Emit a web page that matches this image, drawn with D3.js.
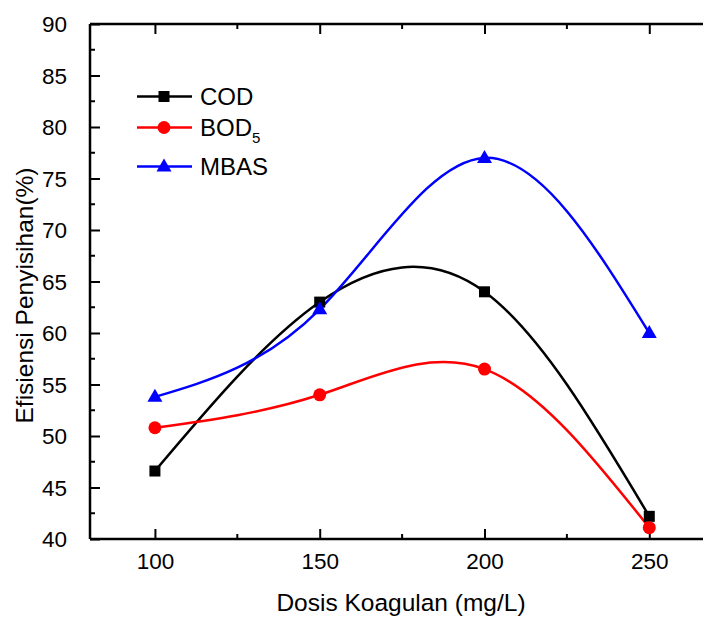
<!DOCTYPE html>
<html><head><meta charset="utf-8">
<script src="https://cdn.jsdelivr.net/npm/d3@7"></script>
<style>body{margin:0;background:#fff}svg{display:block}text{font-family:"Liberation Sans",Arial,sans-serif;fill:#000}</style>
</head><body><svg id="c" width="703" height="617"></svg>
<script>
const doses = [100, 150, 200, 250];
const cod = [46.6, 63.0, 64.0, 42.2];
const bod = [50.8, 54.0, 56.5, 41.1];
const mbas = [53.8, 62.3, 77.0, 60.0];
const xTicks = [100, 150, 200, 250];
const xMinor = [125, 175, 225];
const yTicks = [40, 45, 50, 55, 60, 65, 70, 75, 80, 85, 90];
const yMinor = [42.5, 47.5, 52.5, 57.5, 62.5, 67.5, 72.5, 77.5, 82.5, 87.5];

const svg = d3.select("#c");
const x = d3.scaleLinear().domain([80.3, 266.3]).range([90, 703]);
const y = d3.scaleLinear().domain([40, 90]).range([539, 24]);

// axes (ticks inward)
const axW = 2.5;
const bottomAx = svg.append("g").attr("transform", "translate(0,539)")
  .call(d3.axisBottom(x).tickValues(xTicks).tickSize(-10).tickPadding(22).tickFormat(d3.format("d")));
bottomAx.selectAll(".tick text").attr("dy", 0).attr("y", 30).style("font-size", "22.5px").attr("font-family", null);
bottomAx.append("g").selectAll("line").data(xMinor).join("line")
  .attr("x1", d => x(d)).attr("x2", d => x(d)).attr("y1", 0).attr("y2", -5).attr("stroke", "#000").attr("stroke-width", 2);

const topAx = svg.append("g").attr("transform", "translate(0,24)")
  .call(d3.axisTop(x).tickValues(xTicks).tickSize(-10).tickFormat(""));
topAx.append("g").selectAll("line").data(xMinor).join("line")
  .attr("x1", d => x(d)).attr("x2", d => x(d)).attr("y1", 0).attr("y2", 5).attr("stroke", "#000").attr("stroke-width", 2);

const leftAx = svg.append("g").attr("transform", "translate(90,0)")
  .call(d3.axisLeft(y).tickValues(yTicks).tickSize(-10).tickPadding(23).tickFormat(d3.format("d")));
leftAx.selectAll(".tick text").attr("dy", "0.35em").style("font-size", "22.5px").attr("font-family", null);
leftAx.append("g").selectAll("line").data(yMinor).join("line")
  .attr("y1", d => y(d)).attr("y2", d => y(d)).attr("x1", 0).attr("x2", 5).attr("stroke", "#000").attr("stroke-width", 2);

svg.selectAll(".domain").attr("stroke", "#000").attr("stroke-width", axW);
svg.selectAll(".tick line").attr("stroke", "#000").attr("stroke-width", 2);
bottomAx.select(".domain").attr("d", "M90,0H703");
topAx.select(".domain").attr("d", "M90,0H703");
leftAx.select(".domain").attr("d", "M0,539V24");

// series
const series = [
  {name: "COD", vals: cod, color: "#000000", shape: "square"},
  {name: "BOD", vals: bod, color: "#ff0000", shape: "circle"},
  {name: "MBAS", vals: mbas, color: "#0000ff", shape: "triangle"}
];
const lineGen = d3.line().x(d => x(d[0])).y(d => y(d[1])).curve(d3.curveNatural);
function marker(g, shape, color) {
  if (shape === "square") g.append("rect").attr("x", -5.5).attr("y", -5.5).attr("width", 11).attr("height", 11).attr("fill", color);
  else if (shape === "circle") g.append("circle").attr("r", 6.5).attr("fill", color);
  else g.append("path").attr("d", "M0,-8L7.5,5L-7.5,5Z").attr("fill", color);
}
series.forEach(s => {
  const pts = doses.map((d, i) => [d, s.vals[i]]);
  svg.append("path").attr("d", lineGen(pts)).attr("fill", "none").attr("stroke", s.color).attr("stroke-width", 2.5);
});
series.forEach(s => {
  doses.forEach((d, i) => {
    const g = svg.append("g").attr("transform", `translate(${x(d)},${y(s.vals[i])})`);
    marker(g, s.shape, s.color);
  });
});

// legend
const legY = [96.5, 127.5, 166.5];
series.forEach((s, i) => {
  const g = svg.append("g").attr("transform", `translate(0,${legY[i]})`);
  g.append("line").attr("x1", 137).attr("x2", 192).attr("y1", 0).attr("y2", 0).attr("stroke", s.color).attr("stroke-width", 2.5);
  const m = g.append("g").attr("transform", "translate(164,0)");
  marker(m, s.shape, s.color);
  const t = g.append("text").attr("x", 200).attr("y", 8.5).style("font-size", "24px").text(s.name);
  if (s.name === "BOD") t.append("tspan").attr("dy", 7).style("font-size", "15px").text("5");
});

// titles
svg.append("text").attr("x", 401).attr("y", 611).attr("text-anchor", "middle").style("font-size", "24.5px").text("Dosis Koagulan (mg/L)");
svg.append("text").attr("transform", "translate(33,295.5) rotate(-90)").attr("text-anchor", "middle").style("font-size", "24.5px").text("Efisiensi Penyisihan(%)");
</script></body></html>
